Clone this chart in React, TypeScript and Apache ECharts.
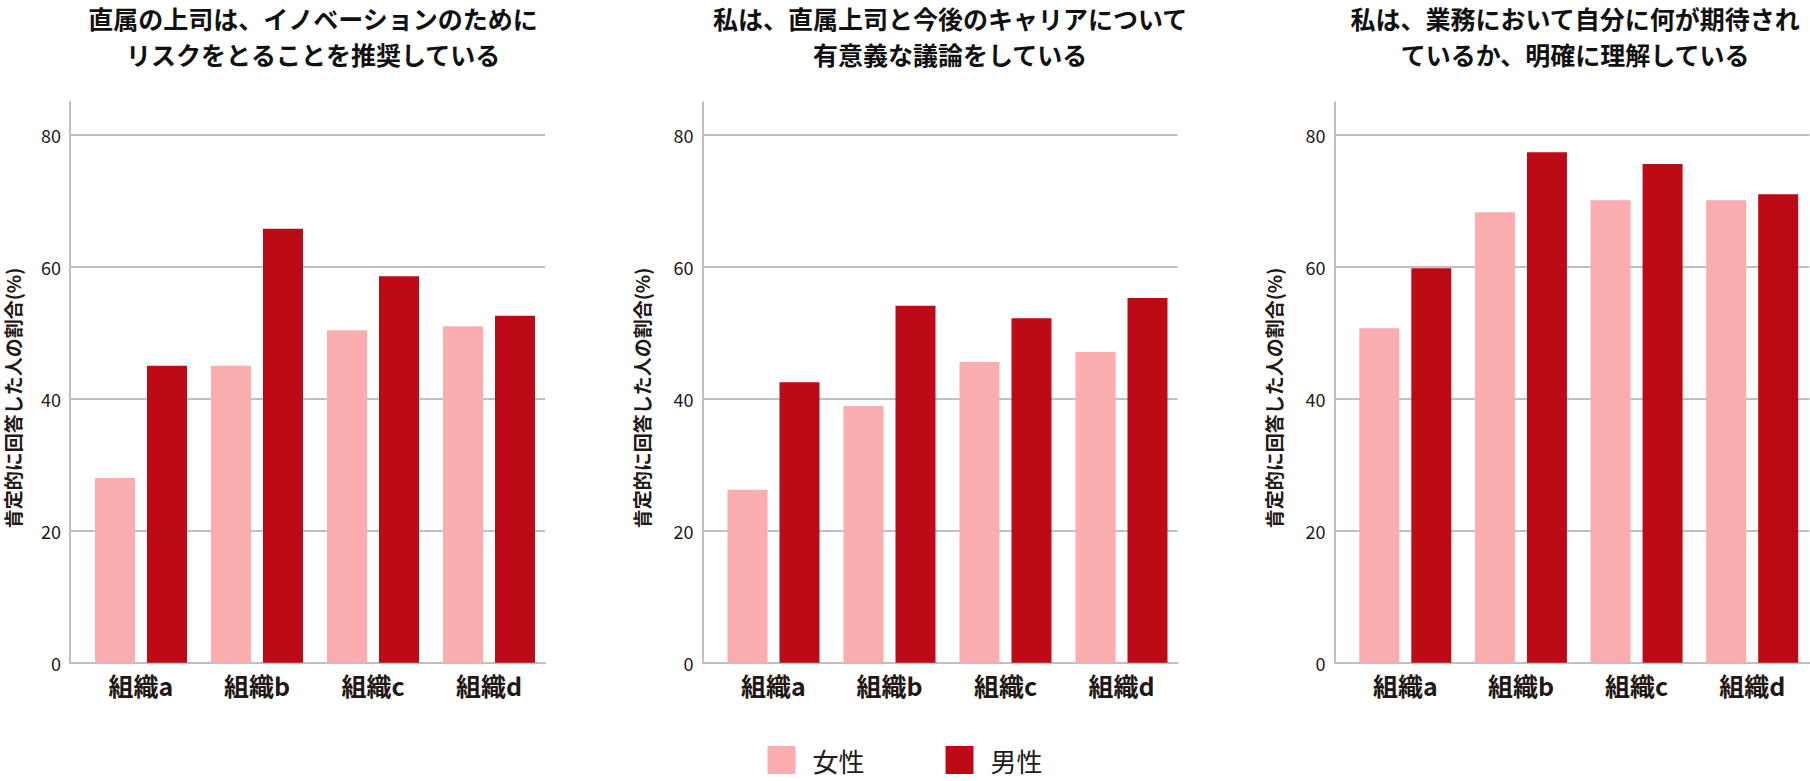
import React, { useEffect, useRef } from "react";
import * as echarts from "echarts";

const categories = ["組織a", "組織b", "組織c", "組織d"];
const seriesNames = ["女性", "男性"];
const titles = [
  "直属の上司は、イノベーションのために\nリスクをとることを推奨している",
  "私は、直属上司と今後のキャリアについて\n有意義な議論をしている",
  "私は、業務において自分に何が期待され\nているか、明確に理解している",
];
const yAxisName = "肯定的に回答した人の割合(%)";

const female1 = [28.0, 45.0, 50.4, 51.0];
const male1 = [45.0, 65.8, 58.6, 52.6];
const female2 = [26.2, 38.9, 45.6, 47.1];
const male2 = [42.5, 54.1, 52.2, 55.3];
const female3 = [50.7, 68.3, 70.1, 70.1];
const male3 = [59.8, 77.4, 75.6, 71.0];

const yMin = 0;
const yMax = 85;
const yInterval = 20;

const femaleData = [female1, female2, female3];
const maleData = [male1, male2, male3];

const FONT = "'Noto Sans CJK JP', 'Noto Sans', sans-serif";
const TEXT = "#231815";
const GRID_LINE = "#c0c0c0";
const PINK = "#fbacae";
const RED = "#bd0a17";

// layout
const axisLefts = [70, 702.5, 1334.5];
const axisWidth = 475;
const barInset = 13;
const barAreaWidth = 464;
const gridTop = 102;
const gridBottom = 118.3;
const titleCenters = [313, 950, 1575];
const nameXs = [12, 641, 1273];
const nameY = 398;

export default function App() {
  const ref = useRef<HTMLDivElement>(null);
  useEffect(() => {
    if (!ref.current) return;
    const chart = echarts.init(ref.current, undefined, { renderer: "svg" });
    const grid: any[] = [];
    const xAxis: any[] = [];
    const yAxis: any[] = [];
    const series: any[] = [];
    const title: any[] = [];
    const graphic: any[] = [];
    for (let i = 0; i < 3; i++) {
      grid.push({ left: axisLefts[i], width: axisWidth, top: gridTop, bottom: gridBottom });
      grid.push({ left: axisLefts[i] + barInset, width: barAreaWidth, top: gridTop, bottom: gridBottom });
      xAxis.push({
        type: "value",
        gridIndex: 2 * i,
        min: 0,
        max: 1,
        axisLine: { show: true, lineStyle: { color: GRID_LINE, width: 2 } },
        axisTick: { show: false },
        axisLabel: { show: false },
        splitLine: { show: false },
      });
      xAxis.push({
        type: "category",
        gridIndex: 2 * i + 1,
        data: categories,
        axisLine: { show: false },
        axisTick: { show: false },
        axisLabel: { fontSize: 25, fontWeight: "bold", color: TEXT, fontFamily: FONT, margin: 10 },
      });
      yAxis.push({
        type: "value",
        gridIndex: 2 * i,
        min: yMin,
        max: yMax,
        interval: yInterval,
        axisLine: { show: true, lineStyle: { color: GRID_LINE, width: 2 } },
        axisTick: { show: false },
        axisLabel: { showMaxLabel: false, fontSize: 18, color: TEXT, fontFamily: FONT, margin: 9 },
        splitLine: { show: true, showMaxLine: false, showMinLine: false, lineStyle: { color: GRID_LINE, width: 2 } },
      });
      yAxis.push({
        type: "value",
        gridIndex: 2 * i + 1,
        min: yMin,
        max: yMax,
        show: false,
      });
      series.push({
        type: "bar",
        name: seriesNames[0],
        xAxisIndex: 2 * i + 1,
        yAxisIndex: 2 * i + 1,
        data: femaleData[i],
        barWidth: 40,
        barGap: "30%",
        itemStyle: { color: PINK },
      });
      series.push({
        type: "bar",
        name: seriesNames[1],
        xAxisIndex: 2 * i + 1,
        yAxisIndex: 2 * i + 1,
        data: maleData[i],
        barWidth: 40,
        barGap: "30%",
        itemStyle: { color: RED },
      });
      title.push({
        text: titles[i],
        left: titleCenters[i],
        top: 0,
        textAlign: "center",
        padding: 0,
        textStyle: { fontSize: 25, fontWeight: "bold", lineHeight: 36, color: "#111111", fontFamily: FONT },
      });
      graphic.push({
        type: "text",
        x: nameXs[i],
        y: nameY,
        rotation: Math.PI / 2,
        style: {
          text: yAxisName,
          fill: TEXT,
          fontSize: 19,
          fontWeight: "bold",
          fontFamily: FONT,
          align: "center",
          verticalAlign: "middle",
        },
      });
    }
    chart.setOption({
      animation: false,
      backgroundColor: "#ffffff",
      title,
      grid,
      xAxis,
      yAxis,
      series,
      graphic,
      legend: {
        data: seriesNames,
        left: "center",
        top: 746,
        itemWidth: 28,
        itemHeight: 28,
        itemGap: 81,
        icon: "rect",
        padding: 0,
        textStyle: { fontSize: 26, lineHeight: 28, color: TEXT, fontFamily: FONT, padding: [0, 0, 0, 12] },
      },
    });
    return () => chart.dispose();
  }, []);
  return (
    <div
      ref={ref}
      style={{ position: "absolute", left: 0, top: 0, width: 1810, height: 781 }}
    />
  );
}
